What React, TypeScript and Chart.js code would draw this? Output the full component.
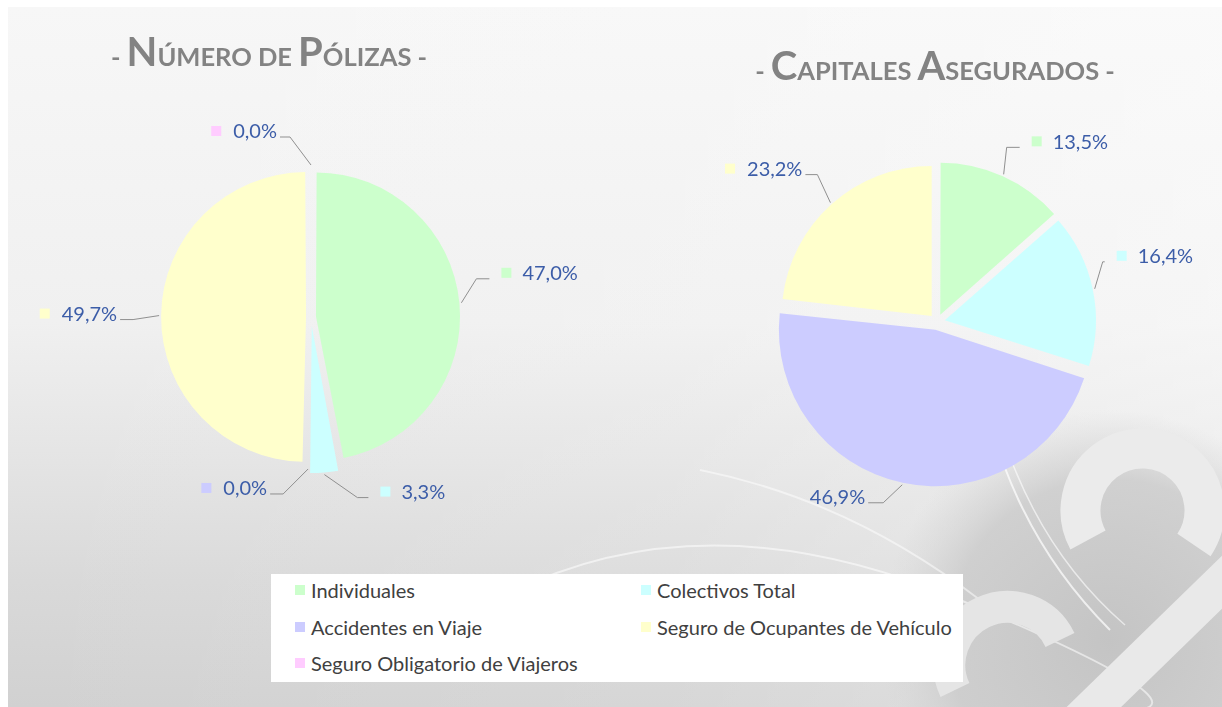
import React, { useEffect, useRef } from "react";
import { Chart, registerables } from "chart.js";

Chart.register(...registerables);

// ---------------- data ----------------
const categories = [
  "Individuales",
  "Colectivos Total",
  "Accidentes en Viaje",
  "Seguro de Ocupantes de Vehículo",
  "Seguro Obligatorio de Viajeros",
];
const sliceColors = ["#ccffcc", "#ccffff", "#ccccff", "#ffffcc", "#ffccff"];
const polizasValues = [47.0, 3.3, 0.0, 49.7, 0.0];
const capitalesValues = [13.5, 16.4, 46.9, 23.2, 0.0];
const polizasTitle = ["-", "Número", "de", "Pólizas", "-"];
const capitalesTitle = ["-", "Capitales", "Asegurados", "-"];

// ---------------- layout / style ----------------
// Chart.js 4 translates an exploded arc by offset / 4
const polizasOffsets = [20, 36, 20, 20, 20];
const capitalesOffsets = [32, 32, 32, 32, 32];

type LabelPos = { dx: number; dy: number; tail: number; marker: boolean } | null;
const polizasLabelPos: LabelPos[] = [
  { dx: 15, dy: -24, tail: 13, marker: true },
  { dx: 33, dy: 23, tail: 11, marker: true },
  { dx: -25, dy: 25, tail: -13, marker: true },
  { dx: -26, dy: 4, tail: -13, marker: true },
  { dx: -21, dy: -28, tail: -10, marker: true },
];
const capitalesLabelPos: LabelPos[] = [
  { dx: 3, dy: -27, tail: 13, marker: true },
  { dx: 8, dy: -27, tail: 2, marker: true },
  { dx: -19, dy: 18, tail: -15, marker: false },
  { dx: -13, dy: -28, tail: -12, marker: true },
  null,
];

const FONT = "Lato, 'Open Sans', sans-serif";
const fmt = (v: number) => v.toFixed(1).replace(".", ",") + "%";

const leaderLabels = {
  id: "leaderLabels",
  afterDatasetsDraw(chart: any, _args: any, opts: any) {
    const meta = chart.getDatasetMeta(0);
    const ds = chart.data.datasets[0];
    const colors = ds.backgroundColor as string[];
    const ctx: CanvasRenderingContext2D = chart.ctx;
    meta.data.forEach((arc: any, i: number) => {
      const pos: LabelPos = opts.positions[i];
      if (!pos) return;
      const p = arc.getProps(["x", "y", "startAngle", "endAngle", "outerRadius", "circumference"], true);
      const mid = (p.startAngle + p.endAngle) / 2;
      const o = (arc.options.offset || 0) / 4;
      const fix = 1 - Math.sin(Math.min(Math.PI, p.circumference || 0));
      const R = p.outerRadius + o + o * fix + 2;
      const sx = p.x + Math.cos(mid) * R;
      const sy = p.y + Math.sin(mid) * R;
      const ex = sx + pos.dx;
      const ey = sy + pos.dy;
      const tx = ex + pos.tail;
      ctx.save();
      ctx.strokeStyle = "#8f8f8f";
      ctx.lineWidth = 1;
      ctx.beginPath();
      ctx.moveTo(sx, sy);
      ctx.lineTo(ex, ey);
      ctx.lineTo(tx, ey);
      ctx.stroke();
      ctx.font = `20px ${FONT}`;
      ctx.textBaseline = "middle";
      ctx.textAlign = "left";
      const text = fmt(ds.data[i]);
      const w = ctx.measureText(text).width;
      const cy = ey - 6;
      let textX: number;
      let markerX: number;
      if (pos.tail >= 0) {
        markerX = tx + 12;
        textX = markerX + 21;
      } else {
        textX = tx - 3 - w;
        markerX = textX - 22;
      }
      if (pos.marker) {
        ctx.fillStyle = colors[i];
        ctx.fillRect(markerX, cy - 5, 10, 10);
      }
      ctx.fillStyle = "#3c5da8";
      ctx.fillText(text, textX, cy + 1);
      ctx.restore();
    });
  },
};

function PieCanvas(props: {
  values: number[];
  offsets: number[];
  positions: LabelPos[];
  radius: number;
  left: number;
  top: number;
  size: number;
}) {
  const ref = useRef<HTMLCanvasElement | null>(null);
  useEffect(() => {
    if (!ref.current) return;
    const chart = new Chart(ref.current, {
      type: "pie",
      data: {
        labels: categories,
        datasets: [
          {
            data: props.values,
            backgroundColor: sliceColors,
            borderWidth: 0,
            offset: props.offsets,
          } as any,
        ],
      },
      options: {
        responsive: false,
        animation: false,
        events: [],
        radius: props.radius,
        layout: { padding: 0 },
        plugins: {
          legend: { display: false },
          tooltip: { enabled: false },
          leaderLabels: { positions: props.positions },
        } as any,
      } as any,
      plugins: [leaderLabels as any],
    });
    return () => chart.destroy();
  }, []);
  return (
    <canvas
      ref={ref}
      width={props.size}
      height={props.size}
      style={{ position: "absolute", left: props.left, top: props.top, width: props.size, height: props.size }}
    />
  );
}

function Title(props: { words: string[]; center: number; top: number }) {
  return (
    <div
      style={{
        position: "absolute",
        left: props.center - 300,
        width: 600,
        top: props.top,
        textAlign: "center",
        fontFamily: FONT,
        fontSize: 40,
        lineHeight: "40px",
        fontWeight: 700,
        color: "#838383",
        whiteSpace: "nowrap",
      }}
    >
      {props.words.map((w, i) => {
        const isDash = w === "-";
        const bigFirst = !isDash && w[0] === w[0].toUpperCase();
        return (
          <React.Fragment key={i}>
            {i > 0 ? <span style={{ fontSize: 25, lineHeight: "1" }}> </span> : null}
            {bigFirst ? <span>{w[0]}</span> : null}
            <span style={{ fontSize: 25.5, lineHeight: "1", textTransform: "uppercase" }}>
              {bigFirst ? w.slice(1) : w}
            </span>
          </React.Fragment>
        );
      })}
    </div>
  );
}

function Legend() {
  const cols = [
    { marker: 295, text: 311 },
    { marker: 641, text: 657 },
  ];
  const rows = [590, 627, 663];
  return (
    <div
      style={{
        position: "absolute",
        left: 271,
        top: 574,
        width: 692,
        height: 108,
        background: "#ffffff",
      }}
    >
      {categories.map((c, i) => {
        const col = cols[i % 2];
        const row = rows[Math.floor(i / 2)];
        return (
          <React.Fragment key={c}>
            <div
              style={{
                position: "absolute",
                left: col.marker - 271,
                top: row - 574 - 5,
                width: 10,
                height: 10,
                background: sliceColors[i],
              }}
            />
            <div
              style={{
                position: "absolute",
                left: col.text - 271,
                top: row - 574 - 12,
                height: 24,
                lineHeight: "24px",
                fontFamily: FONT,
                fontSize: 20,
                color: "#404040",
                whiteSpace: "nowrap",
              }}
            >
              {c}
            </div>
          </React.Fragment>
        );
      })}
    </div>
  );
}

function Background() {
  return (
    <svg width={1222} height={707} style={{ position: "absolute", left: 0, top: 0 }}>
      <defs>
        <linearGradient id="bgV" x1="0" y1="0" x2="0" y2="1">
          <stop offset="0" stopColor="#f7f7f7" />
          <stop offset="0.45" stopColor="#f0f0f0" />
          <stop offset="0.65" stopColor="#e4e4e4" />
          <stop offset="0.82" stopColor="#d9d9d9" />
          <stop offset="1" stopColor="#d1d1d1" />
        </linearGradient>
        <linearGradient id="bgH" x1="0" y1="0" x2="1" y2="0">
          <stop offset="0" stopColor="#ffffff" stopOpacity="0" />
          <stop offset="0.55" stopColor="#ffffff" stopOpacity="0.12" />
          <stop offset="1" stopColor="#ffffff" stopOpacity="0.4" />
        </linearGradient>
        <radialGradient id="logoShade" cx="1110" cy="640" r="230" gradientUnits="userSpaceOnUse">
          <stop offset="0" stopColor="#c4c4c4" stopOpacity="1" />
          <stop offset="0.7" stopColor="#cacaca" stopOpacity="0.8" />
          <stop offset="1" stopColor="#d4d4d4" stopOpacity="0" />
        </radialGradient>
      </defs>
      <rect x={0} y={0} width={1222} height={707} fill="#ffffff" />
      <rect x={8} y={7} width={1214} height={700} fill="url(#bgV)" />
      <rect x={8} y={7} width={1214} height={700} fill="url(#bgH)" />
      <rect x={880} y={400} width={342} height={307} fill="url(#logoShade)" />
      {/* faint white sweeping arcs */}
      <path d="M 420 650 Q 650 470 960 600 T 1080 707" fill="none" stroke="#ffffff" strokeOpacity="0.55" strokeWidth="2" />
      <path d="M 700 470 Q 850 500 980 600" fill="none" stroke="#ffffff" strokeOpacity="0.5" strokeWidth="2" />
      <path d="M 1005 468 Q 1040 560 1110 630" fill="none" stroke="#ffffff" strokeOpacity="0.7" strokeWidth="2" />
      <path d="M 1012 462 Q 1050 560 1125 625" fill="none" stroke="#ffffff" strokeOpacity="0.6" strokeWidth="1.5" />
      {/* logo shapes */}
      <path d="M 1088 540 A 62 62 0 1 1 1194 545" fill="none" stroke="#ebebeb" strokeWidth="40" />
      <line x1={1250} y1={555} x2={1060} y2={740} stroke="#e9e9e9" strokeWidth="38" />
      <path d="M 955 690 A 58 58 0 0 1 1060 640" fill="none" stroke="#e5e5e5" strokeWidth="32" />
    </svg>
  );
}

export default function App() {
  return (
    <div
      style={{
        position: "absolute",
        left: 0,
        top: 0,
        width: 1222,
        height: 707,
        overflow: "hidden",
      }}
    >
      <Background />
      <PieCanvas
        values={polizasValues}
        offsets={polizasOffsets}
        positions={polizasLabelPos}
        radius={140}
        left={1}
        top={7}
        size={620}
      />
      <PieCanvas
        values={capitalesValues}
        offsets={capitalesOffsets}
        positions={capitalesLabelPos}
        radius={150}
        left={652}
        top={37}
        size={570}
      />
      <Title words={polizasTitle} center={269} top={31} />
      <Title words={capitalesTitle} center={935} top={45} />
      <Legend />
    </div>
  );
}
